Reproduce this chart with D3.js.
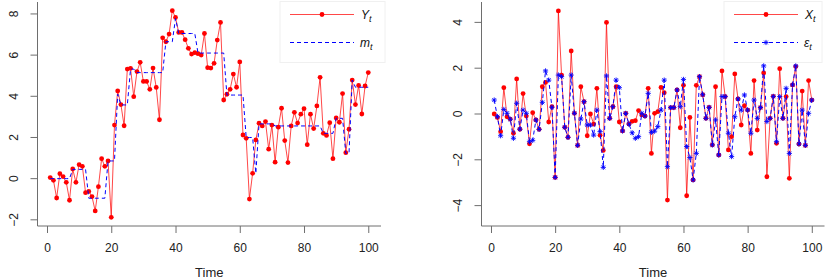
<!DOCTYPE html>
<html><head><meta charset="utf-8">
<script src="https://cdn.jsdelivr.net/npm/d3@7"></script>
<style>body{margin:0;background:#fff}svg{display:block}text{font-family:"Liberation Sans",Arial,sans-serif}</style>
</head><body><svg id="c" width="830" height="280"></svg>
<script>
const time = d3.range(1, 101);
const xTicks = [0, 20, 40, 60, 80, 100];
const leftYTicks = [-2, 0, 2, 4, 6, 8];
const rightYTicks = [-4, -2, 0, 2, 4];
const Y = [0.05,-0.08,-0.94,0.24,0.1,-0.18,-1.05,0.47,-0.18,0.68,
0.6,-0.68,-0.62,-0.87,-1.57,-0.39,0.97,0.6,0.86,-1.88,
2.6,4.26,3.6,2.57,5.32,5.36,3.98,5.2,5.65,4.72,
4.72,4.34,5.37,4.43,2.86,6.84,6.65,7.02,8.16,7.83,
7.1,7.1,6.75,6.33,6.05,6.12,6.07,6.0,7.05,5.39,
5.37,5.6,6.73,7.59,3.82,4.1,4.34,5.08,4.44,5.67,
2.12,1.96,-0.99,0.26,1.88,2.69,2.56,2.77,1.43,2.6,
0.8,2.5,3.42,1.85,0.78,2.56,3.22,2.7,3.13,3.4,
1.65,3.13,2.43,3.53,4.92,2.2,2.1,2.72,0.97,2.95,
2.74,4.13,1.26,2.4,4.79,3.6,4.53,3.14,4.5,5.15];
const m = [0,0,0,0,0,0,0,0.45,0.45,0.45,
0.45,0.45,-0.95,-0.95,-0.95,-0.95,-0.95,-0.95,0.86,0.86,
0.86,4.1,3.58,3.58,3.58,5.32,5.32,5.15,5.15,5.15,
5.15,5.15,5.15,5.15,5.15,5.15,6.65,6.65,6.65,7.78,
7.05,7.05,7.05,7.05,7.05,7.05,6.1,6.1,6.1,6.1,
6.1,6.1,6.1,6.1,6.1,4.06,4.06,4.06,4.06,4.06,
4.06,2.0,2.0,2.0,0.26,2.66,2.66,2.66,2.66,2.66,
2.56,2.56,2.56,2.56,2.56,2.56,2.56,2.56,2.56,2.56,
2.56,2.56,2.56,2.56,2.56,2.2,2.2,2.2,2.2,2.93,
2.93,2.93,1.23,1.23,4.79,4.44,4.44,4.44,4.44,4.44];
const X = [0.0,-0.15,-0.77,1.15,-0.12,-0.22,-0.84,1.53,-0.67,0.89,
-0.09,-1.3,0.06,-0.26,-0.67,1.19,1.38,-0.35,0.32,-2.77,
4.5,1.7,-0.58,-1.02,2.75,0.03,-1.37,1.19,0.54,-0.95,
0.0,-0.44,1.12,-0.93,-1.59,4.0,-0.19,0.32,1.19,-0.35,
-0.74,0.03,-0.44,-0.32,-0.29,0.15,-0.04,-0.09,1.12,-1.72,
0.03,0.1,1.16,0.93,-3.76,0.28,0.28,1.05,-0.6,1.25,
-3.57,-0.15,-2.88,1.25,1.63,0.84,-0.19,0.29,-1.35,1.19,
-1.79,1.88,0.76,-1.57,-0.99,1.75,0.66,-0.48,0.36,0.17,
-1.72,1.46,-0.7,0.28,1.79,-2.74,-0.19,0.77,-1.28,1.98,
-0.19,0.76,-2.81,1.27,2.07,-1.31,1.0,-1.37,1.46,0.61];
const eps = [0.61,-0.12,-0.95,0.2,0.03,-0.23,-1.06,0.47,-0.66,0.17,
0.03,-1.21,-1.15,-0.26,-0.67,0.51,1.88,1.48,0.29,-2.77,
1.7,1.63,-0.58,-1.02,1.7,0.03,-1.37,-0.22,0.54,-0.48,
-0.48,-0.92,0.17,-0.77,-2.33,1.66,-0.19,0.32,1.48,1.15,
-0.74,0.03,-0.44,-0.82,-1.06,-0.99,0.03,-0.09,0.9,-0.8,
-0.75,-0.55,0.17,1.48,-2.3,0.28,0.28,1.05,0.32,1.51,
-1.42,-1.9,-2.88,-1.72,1.63,0.84,-0.19,0.29,-1.35,-0.26,
-1.79,0.76,0.76,-0.84,-1.86,-0.12,0.66,0.17,0.83,0.17,
-0.84,0.61,-0.19,0.28,2.1,-0.33,-0.19,0.77,-1.21,0.76,
-0.19,1.12,-1.72,1.27,2.1,-1.31,0.17,-1.37,0.03,0.61];

const svg = d3.select("#c");
const RED = "#ff0000", BLUE = "#0000ff", AX = "#6e6e6e";

function starPath(cx, cy, r) {
  const d = r * 0.72;
  return `M${cx-r},${cy}L${cx+r},${cy}M${cx},${cy-r}L${cx},${cy+r}` +
         `M${cx-d},${cy-d}L${cx+d},${cy+d}M${cx-d},${cy+d}L${cx+d},${cy-d}`;
}

function panel(cfg) {
  const g = svg.append("g");
  const x = d3.scaleLinear().domain([-2.96, 103.96]).range(cfg.xr);
  const y = d3.scaleLinear().domain(cfg.yd).range([226, 2]);
  g.append("path").attr("d", `M${cfg.xr[0]},2V226H${cfg.xr[1]}`)
    .attr("fill", "none").attr("stroke", AX).attr("stroke-width", 1);
  const xa = g.append("g").attr("transform", "translate(0,226)")
    .call(d3.axisBottom(x).tickValues(xTicks).tickSize(7).tickPadding(10).tickFormat(d3.format("d")));
  xa.select(".domain").remove();
  xa.selectAll("line").attr("stroke", AX);
  xa.selectAll("text").attr("font-size", 12).attr("fill", "#222").attr("font-family", "Liberation Sans, Arial, sans-serif");
  const ya = g.append("g").attr("transform", `translate(${cfg.xr[0]},0)`)
    .call(d3.axisLeft(y).tickValues(cfg.yt).tickSize(7).tickFormat(d3.format("d")));
  ya.select(".domain").remove();
  ya.selectAll("line").attr("stroke", AX);
  ya.selectAll("text").attr("font-size", 12).attr("fill", "#222")
    .attr("font-family", "Liberation Sans, Arial, sans-serif")
    .attr("text-anchor", "middle").attr("dy", null).attr("x", null)
    .attr("transform", function(d){ return `translate(${-24},${y(d)}) rotate(-90)`; })
    .attr("y", 4);
  ya.selectAll(".tick").attr("transform", null);
  ya.selectAll(".tick line").attr("transform", d => `translate(0,${y(d)})`);
  g.append("text").attr("x", (cfg.xr[0] + cfg.xr[1]) / 2).attr("y", 277)
    .attr("text-anchor", "middle").attr("font-size", 13).attr("fill", "#222").text("Time");

  const line = d3.line().x((d, i) => x(time[i])).y(d => y(d));
  g.append("path").datum(cfg.s1).attr("d", line).attr("fill", "none")
    .attr("stroke", RED).attr("stroke-width", 0.9).attr("stroke-opacity", 0.8);
  g.selectAll(".p1").data(cfg.s1).enter().append("circle")
    .attr("cx", (d, i) => x(time[i])).attr("cy", d => y(d)).attr("r", 2.4).attr("fill", RED);
  g.append("path").datum(cfg.s2).attr("d", line).attr("fill", "none")
    .attr("stroke", BLUE).attr("stroke-width", 1).attr("stroke-dasharray", "4,3");
  if (cfg.stars) {
    g.selectAll(".p2").data(cfg.s2).enter().append("path")
      .attr("d", (d, i) => starPath(x(time[i]), y(d), 2.6))
      .attr("stroke", BLUE).attr("stroke-width", 0.9).attr("fill", "none");
  }
  const L = cfg.leg;
  g.append("rect").attr("x", L.x).attr("y", 1.5).attr("width", L.w).attr("height", 61)
    .attr("fill", "#fff").attr("stroke", "#f0f0f0");
  g.append("line").attr("x1", L.lx).attr("x2", L.lx + 64).attr("y1", 14.5).attr("y2", 14.5)
    .attr("stroke", RED).attr("stroke-width", 0.9).attr("stroke-opacity", 0.8);
  g.append("circle").attr("cx", L.lx + 32).attr("cy", 14.5).attr("r", 2.4).attr("fill", RED);
  g.append("line").attr("x1", L.lx).attr("x2", L.lx + 64).attr("y1", 42.5).attr("y2", 42.5)
    .attr("stroke", BLUE).attr("stroke-width", 1).attr("stroke-dasharray", "4,3");
  if (cfg.stars) {
    g.append("path").attr("d", starPath(L.lx + 32, 42.5, 2.6)).attr("stroke", BLUE)
      .attr("stroke-width", 0.9).attr("fill", "none");
  }
  const lab = (yy, main, tx) => {
    const t = g.append("text").attr("x", tx).attr("y", yy).attr("font-size", 12)
      .attr("font-style", "italic").attr("fill", "#111");
    t.append("tspan").text(main);
    t.append("tspan").attr("font-size", 9).attr("dy", 3).text("t");
  };
  lab(19, L.n1, L.lx + 71);
  lab(47, L.n2, L.lx + 70);
}

panel({xr: [37.5, 381], yd: [-2.3, 8.58], yt: leftYTicks, s1: Y, s2: m, stars: false,
  leg: {x: 280, w: 105, lx: 290, n1: "Y", n2: "m"}});
panel({xr: [481.5, 824.5], yd: [-4.89, 4.89], yt: rightYTicks, s1: X, s2: eps, stars: true,
  leg: {x: 724, w: 98, lx: 734, n1: "X", n2: "ε"}});
</script></body></html>
